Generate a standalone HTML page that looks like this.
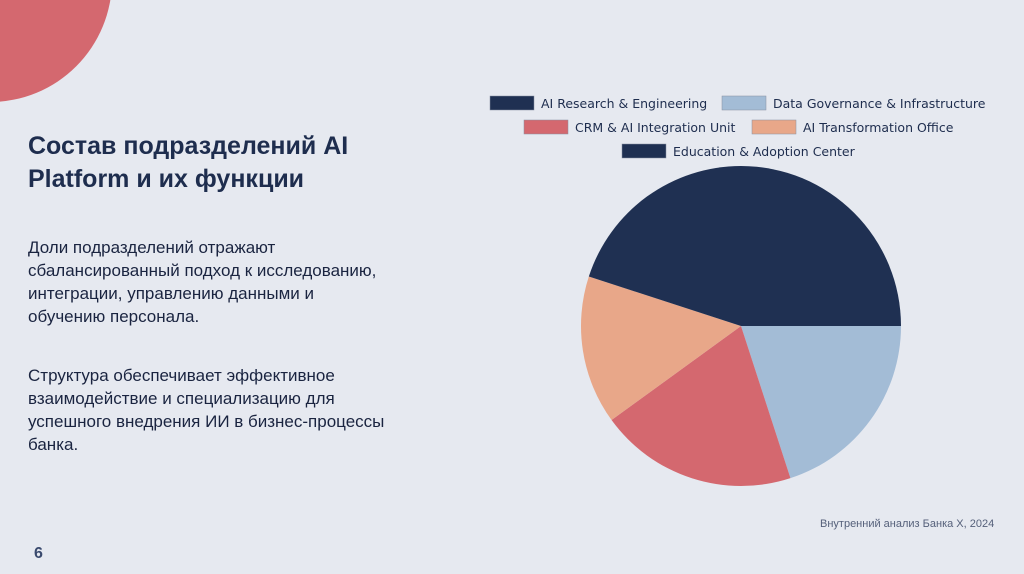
<!DOCTYPE html>
<html><head><meta charset="utf-8"><style>
html,body{margin:0;width:1024px;height:574px;overflow:hidden;}
body{background:#e6e9f0;position:relative;font-family:"Liberation Sans",sans-serif;}
.t{position:absolute;color:#1e2d4e;}
</style></head><body>
<div style="position:absolute;left:0;top:0;width:200px;height:200px;overflow:hidden">
<div style="position:absolute;left:-132px;top:-142px;width:244px;height:244px;border-radius:50%;background:#d4686f"></div>
</div>
<div class="t" style="left:28px;top:130px;font-size:25px;font-weight:bold;line-height:33px;">Состав подразделений AI<br>Platform и их функции</div>
<div class="t" style="left:28px;top:236px;font-size:17px;line-height:23px;color:#1a2440">Доли подразделений отражают<br>сбалансированный подход к исследованию,<br>интеграции, управлению данными и<br>обучению персонала.</div>
<div class="t" style="left:28px;top:364px;font-size:17px;line-height:23px;color:#1a2440">Структура обеспечивает эффективное<br>взаимодействие и специализацию для<br>успешного внедрения ИИ в бизнес-процессы<br>банка.</div>
<div class="t" style="left:34px;top:545px;font-size:16px;font-weight:bold;color:#3a4a6e">6</div>
<div class="t" style="left:820px;top:518px;font-size:11px;color:#55607a">Внутренний анализ Банка X, 2024</div>
<svg width="1024" height="574" style="position:absolute;left:0;top:0" id="svg"></svg>
<script>
const labels=["AI Research & Engineering","Data Governance & Infrastructure","CRM & AI Integration Unit","AI Transformation Office","Education & Adoption Center"];
const values=[25,20,20,15,20];
const colors=["#1f3052","#a3bcd6","#d4686f","#e8a789","#1f3052"];
const NS="http://www.w3.org/2000/svg",svg=document.getElementById('svg');
const cx=741,cy=326,r=160;
const total=values.reduce((a,b)=>a+b,0);
let ang=90;
values.forEach((v,i)=>{
  const a0=ang*Math.PI/180,a1=(ang-v/total*360)*Math.PI/180;
  const x0=cx+r*Math.cos(a0),y0=cy-r*Math.sin(a0),x1=cx+r*Math.cos(a1),y1=cy-r*Math.sin(a1);
  const large=v/total>0.5?1:0;
  const p=document.createElementNS(NS,'path');
  p.setAttribute('d',`M${cx},${cy}L${x0},${y0}A${r},${r} 0 ${large} 1 ${x1},${y1}Z`);
  p.setAttribute('fill',colors[i]);
  
  
  svg.appendChild(p);
  ang-=v/total*360;
});
const pos=[[490,96],[722,96],[524,120],[752,120],[622,144]];
labels.forEach((l,i)=>{
  const [x,y]=pos[i];
  const b=document.createElementNS(NS,'rect');
  b.setAttribute('x',x);b.setAttribute('y',y);b.setAttribute('width',44);b.setAttribute('height',14);
  b.setAttribute('fill',colors[i]);b.setAttribute('stroke','#8890a0');b.setAttribute('stroke-width','0.5');
  
  
  svg.appendChild(b);
  const t=document.createElementNS(NS,'text');
  t.setAttribute('x',x+51);t.setAttribute('y',y+12);t.setAttribute('font-size','12.5');
  t.setAttribute('font-family','DejaVu Sans, sans-serif');t.setAttribute('fill','#1e2d4e');
  t.textContent=l;
  
  
  svg.appendChild(t);
});
</script>
</body></html>
